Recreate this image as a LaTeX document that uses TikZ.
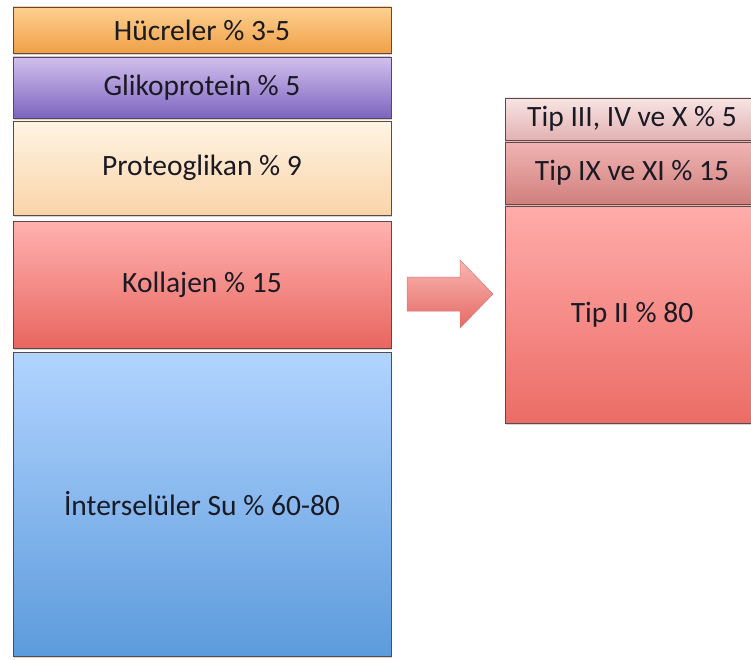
\documentclass[tikz,border=0pt]{standalone}
\usepackage{fontspec}
\setmainfont{Carlito}
\usetikzlibrary{shadows}
\definecolor{txt}{HTML}{1A1A24}
\definecolor{edge}{HTML}{5A4A4A}
\tikzset{
  layer/.style={draw=edge, line width=0.8pt, minimum width=378pt, inner sep=0pt,
    text=txt, font=\fontsize{29.5}{32}\selectfont,
    drop shadow={shadow xshift=1pt, shadow yshift=-2pt, opacity=0.35}},
  rlayer/.style={layer, minimum width=254pt},
}
\begin{document}
\begin{tikzpicture}[x=1pt,y=-1pt]
\useasboundingbox (0,0) rectangle (751,660);
% left stack
\node[layer, minimum height=46pt, top color={rgb,255:red,253;green,208;blue,145}, bottom color={rgb,255:red,240;green,160;blue,70}] (huc) at (202,30) {Hücreler \% 3-5};
\node[layer, minimum height=61pt, top color={rgb,255:red,210;green,192;blue,238}, bottom color={rgb,255:red,125;green,100;blue,190}] (gli) at (202,87.5) {Glikoprotein \% 5};
\node[layer, minimum height=94pt, top color={rgb,255:red,255;green,244;blue,228}, bottom color={rgb,255:red,250;green,212;blue,168}] (pro) at (202,168) {Proteoglikan \% 9};
\node[layer, minimum height=127pt, top color={rgb,255:red,255;green,178;blue,176}, bottom color={rgb,255:red,232;green,102;blue,95}] (kol) at (202,284.5) {Kollajen \% 15};
\node[layer, minimum height=304pt, top color={rgb,255:red,178;green,212;blue,255}, bottom color={rgb,255:red,92;green,155;blue,220}] (int) at (202,504) {İnterselüler Su \% 60-80};
% arrow
\path[draw={rgb,255:red,215;green,120;blue,118}, line width=0.5pt, top color={rgb,255:red,250;green,182;blue,178}, bottom color={rgb,255:red,228;green,106;blue,100}]
  (407,277) -- (460,277) -- (460,260) -- (493,294) -- (460,328) -- (460,311) -- (407,311) -- cycle;
% right stack
\node[rlayer, minimum height=42pt, top color={rgb,255:red,248;green,228;blue,228}, bottom color={rgb,255:red,226;green,178;blue,178}] (t3) at (632,119) {Tip III, IV ve X \% 5};
\node[rlayer, minimum height=62pt, top color={rgb,255:red,240;green,180;blue,178}, bottom color={rgb,255:red,208;green,128;blue,126}] (t9) at (632,173) {Tip IX ve XI \% 15};
\node[rlayer, minimum height=217pt, top color={rgb,255:red,255;green,172;blue,170}, bottom color={rgb,255:red,236;green,108;blue,102}] (t2) at (632,314.5) {Tip II \% 80};
\end{tikzpicture}
\end{document}
